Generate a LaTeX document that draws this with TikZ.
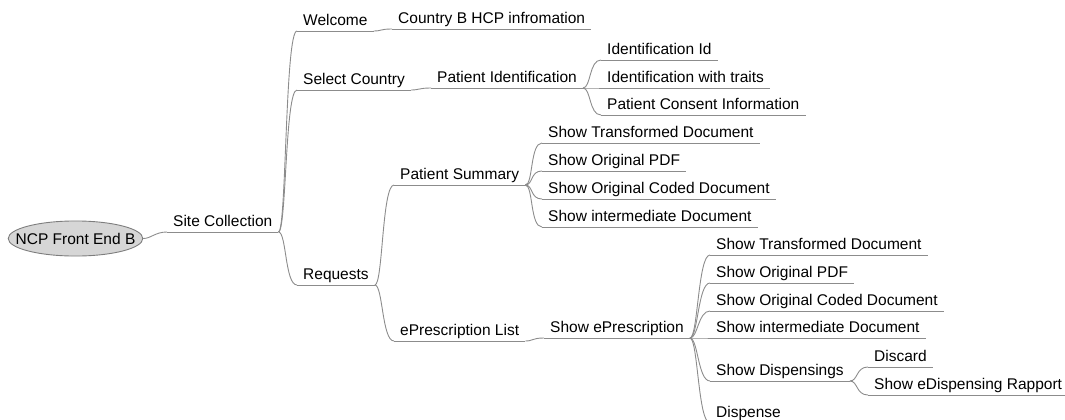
\documentclass[tikz,border=0pt]{standalone}
\usepackage{fontspec}
\setmainfont{Liberation Sans}
\usetikzlibrary{shapes.geometric}
\definecolor{branchgray}{RGB}{140,140,140}
\definecolor{rootfill}{RGB}{214,214,214}
\definecolor{rootdraw}{RGB}{125,125,125}
\tikzset{
  topic/.style={anchor=south west, inner xsep=6pt, inner ysep=5pt, text depth=0pt,
                font=\fontsize{15.5}{18}\selectfont, text=black},
  branch/.style={draw=branchgray, line width=0.9pt},
  rootnode/.style={ellipse, draw=rootdraw, fill=rootfill, line width=0.9pt,
                   inner xsep=-12.3pt, inner ysep=6.9pt, text height=11pt, text depth=0pt,
                   font=\fontsize{15.5}{18}\selectfont}
}
\begin{document}
\begin{tikzpicture}[x=1pt, y=-1pt]
\useasboundingbox (0,0) rectangle (1065,420);
\clip (0,0) rectangle (1065,420);

% central topic
\node[rootnode] (root) at (75.5,238.5) {NCP Front End B};

% first level
\node[topic] (sc) at (167,232) {Site Collection};

% second level
\node[topic] (wel) at (297,31) {Welcome};
\node[topic] (sel) at (297,90) {Select Country};
\node[topic] (req) at (297,285) {Requests};

% welcome / select country branches
\node[topic] (cb)  at (392,29) {Country B HCP infromation};
\node[topic] (pid) at (431,88) {Patient Identification};
\node[topic] (iid) at (601,60) {Identification Id};
\node[topic] (iwt) at (601,88) {Identification with traits};
\node[topic] (pci) at (601,115) {Patient Consent Information};

% requests branch
\node[topic] (ps)  at (394,185) {Patient Summary};
\node[topic] (ps1) at (542,143) {Show Transformed Document};
\node[topic] (ps2) at (542,171) {Show Original PDF};
\node[topic] (ps3) at (542,199) {Show Original Coded Document};
\node[topic] (ps4) at (542,227) {Show intermediate Document};

\node[topic] (epl) at (394,341) {ePrescription List};
\node[topic] (sep) at (544,338) {Show ePrescription};
\node[topic] (ep1) at (710,255) {Show Transformed Document};
\node[topic] (ep2) at (710,283) {Show Original PDF};
\node[topic] (ep3) at (710,311) {Show Original Coded Document};
\node[topic] (ep4) at (710,338) {Show intermediate Document};
\node[topic] (sd)  at (710,381) {Show Dispensings};
\node[topic] (dis) at (868,367) {Discard};
\node[topic] (sedr) at (868,395) {Show eDispensing Rapport};
\node[topic] (dsp) at (710,423) {Dispense};

% underlines of the topics
\foreach \n in {sc,wel,sel,req,cb,pid,iid,iwt,pci,ps,ps1,ps2,ps3,ps4,
                epl,sep,ep1,ep2,ep3,ep4,sd,dis,sedr,dsp}
  \draw[branch] (\n.south west) -- (\n.south east);

% connectors
\draw[branch] (root.east) .. controls +(8,0) and +(-12,0) .. (sc.south west);
\foreach \p/\c in {sc/wel, sc/sel, sc/req, wel/cb, sel/pid,
                   pid/iid, pid/iwt, pid/pci,
                   req/ps, req/epl,
                   ps/ps1, ps/ps2, ps/ps3, ps/ps4,
                   epl/sep,
                   sep/ep1, sep/ep2, sep/ep3, sep/ep4, sep/sd, sep/dsp,
                   sd/dis, sd/sedr}
  \draw[branch] (\p.south east) .. controls +(8,0) and +(-12,0) .. (\c.south west);
\end{tikzpicture}
\end{document}
